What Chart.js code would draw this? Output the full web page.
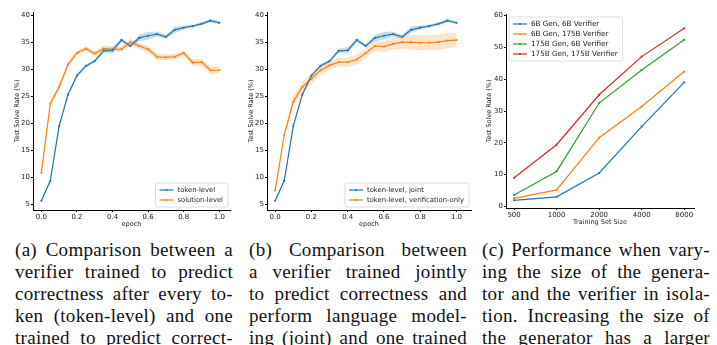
<!DOCTYPE html>
<html>
<head>
<meta charset="utf-8">
<script src="https://cdn.jsdelivr.net/npm/chart.js@4.4.0/dist/chart.umd.min.js"></script>
<style>
  body { margin: 0; background: #fff; }
  #wrap { position: relative; width: 717px; height: 345px; overflow: hidden; }
  canvas { position: absolute; top: 0; }
  .cap { position: absolute; top: 239px; width: 218px; font-family: "Liberation Serif", serif; font-size: 19px; letter-spacing: 0.3px; color: #111; }
  .cap div { height: 22px; line-height: 22px; white-space: nowrap; text-align: justify; text-align-last: justify; }
</style>
</head>
<body>
<div id="wrap">
  <canvas id="chartA" width="240" height="232" style="left:0px"></canvas>
  <canvas id="chartB" width="240" height="232" style="left:240px"></canvas>
  <canvas id="chartC" width="240" height="232" style="left:477px"></canvas>
  <div class="cap" style="left:15px">
    <div>(a) Comparison between a</div>
    <div>verifier trained to predict</div>
    <div>correctness after every to-</div>
    <div>ken (token-level) and one</div>
    <div>trained to predict correct-</div>
  </div>
  <div class="cap" style="left:249px">
    <div>(b) Comparison between</div>
    <div>a verifier trained jointly</div>
    <div>to predict correctness and</div>
    <div>perform language model-</div>
    <div>ing (joint) and one trained</div>
  </div>
  <div class="cap" style="left:482px; width:228px">
    <div>(c) Performance when vary-</div>
    <div>ing the size of the genera-</div>
    <div>tor and the verifier in isola-</div>
    <div>tion. Increasing the size of</div>
    <div>the generator has a larger</div>
  </div>
</div>
<script>
// epoch curves (a) and (b)
var epochs = [0, 0.05, 0.1, 0.15, 0.2, 0.25, 0.3, 0.35, 0.4, 0.45, 0.5, 0.55, 0.6, 0.65, 0.7, 0.75, 0.8, 0.85, 0.9, 0.95, 1.0];
var tokenLevel = [5.6, 9.3, 19.5, 25.3, 28.8, 30.6, 31.5, 33.4, 33.5, 35.4, 34.3, 35.8, 36.2, 36.5, 36.0, 37.3, 37.7, 38.0, 38.4, 39.0, 38.6];
var tokenSpread = [0.2, 0.3, 0.3, 0.3, 0.3, 0.3, 0.3, 0.4, 0.6, 0.4, 0.3, 0.6, 0.7, 0.5, 0.4, 0.6, 0.4, 0.3, 0.3, 0.3, 0.3];
var solutionLevel = [10.8, 23.6, 26.7, 30.9, 33.0, 33.8, 32.9, 33.8, 33.7, 33.7, 35.0, 34.3, 33.7, 32.3, 32.2, 32.3, 33.0, 31.2, 31.3, 29.8, 29.8];
var solutionSpread = [0.3, 0.5, 0.6, 0.5, 0.4, 0.4, 0.4, 0.6, 0.5, 0.5, 0.6, 0.5, 0.6, 0.6, 0.5, 0.5, 0.5, 0.6, 0.6, 0.7, 0.6];
var verifOnly = [7.5, 17.8, 24.0, 26.7, 28.2, 29.8, 30.7, 31.3, 31.3, 31.8, 33.0, 34.3, 34.2, 34.7, 35.0, 35.0, 34.9, 34.9, 35.0, 35.3, 35.4];
var verifSpread = [0.3, 0.6, 0.8, 1.0, 1.0, 0.9, 0.8, 0.8, 0.9, 0.9, 0.9, 0.9, 1.0, 1.1, 1.2, 1.4, 1.4, 1.4, 1.4, 1.4, 1.3];

// training set size curves (c)
var sizeLabels = ['500', '1000', '2000', '4000', '8000'];
var gen6ver6 = [1.9, 3.0, 10.5, 25.1, 39.0];
var gen6ver175 = [2.5, 5.2, 21.6, 31.4, 42.4];
var gen175ver6 = [3.6, 11.0, 32.5, 42.9, 52.4];
var gen175ver175 = [9.0, 19.4, 35.1, 47.1, 56.0];

var BLUE = '#1f77b4', ORANGE = '#ff7f0e', GREEN = '#2ca02c', RED = '#d62728';
var FONT = '"DejaVu Sans", sans-serif';
var INK = '#222';

function pts(xs, ys) {
  return xs.map(function (x, i) { return {x: x, y: ys[i]}; });
}

// matplotlib style legend box inside the plot
var boxLegend = {
  id: 'boxLegend',
  afterDatasetsDraw: function (chart, args, opts) {
    var ctx = chart.ctx, a = chart.chartArea;
    var items = chart.data.datasets.filter(function (d) { return d.inLegend; });
    ctx.save();
    ctx.font = (opts.size || 6.8) + 'px ' + FONT;
    var tw = 0;
    items.forEach(function (d) { tw = Math.max(tw, ctx.measureText(d.label).width); });
    var rowH = 10;
    var w = 4 + 14 + 4 + tw + 5;
    var h = items.length * rowH + 4;
    var x = opts.corner === 'ul' ? a.left + 3 : a.right - 2 - w;
    var y = opts.corner === 'ul' ? a.top + 3 : a.bottom - 3 - h;
    ctx.beginPath();
    ctx.roundRect(x, y, w, h, 2);
    ctx.fillStyle = 'rgba(255,255,255,0.85)';
    ctx.fill();
    ctx.strokeStyle = '#d6d6d6';
    ctx.lineWidth = 0.8;
    ctx.stroke();
    items.forEach(function (d, i) {
      var cy = y + 2 + rowH * i + rowH / 2;
      ctx.strokeStyle = d.borderColor;
      ctx.lineWidth = 1.2;
      ctx.beginPath();
      ctx.moveTo(x + 4, cy);
      ctx.lineTo(x + 18, cy);
      ctx.stroke();
      ctx.fillStyle = d.borderColor;
      ctx.beginPath();
      ctx.arc(x + 11, cy, 1, 0, Math.PI * 2);
      ctx.fill();
      ctx.fillStyle = INK;
      ctx.textBaseline = 'middle';
      ctx.fillText(d.label, x + 22, cy + 0.5);
    });
    ctx.restore();
  }
};

function lineSet(label, data, color) {
  return {label: label, data: data, borderColor: color, backgroundColor: color, borderWidth: 1.2,
          pointRadius: 1.1, pointBorderWidth: 0, tension: 0, fill: false, inLegend: true};
}
function bandSets(xs, ys, spread, rgba) {
  var lo = ys.map(function (v, i) { return v - spread[i]; });
  var hi = ys.map(function (v, i) { return v + spread[i]; });
  return [
    {data: pts(xs, lo), borderWidth: 0, pointRadius: 0, fill: false},
    {data: pts(xs, hi), borderWidth: 0, pointRadius: 0, fill: '-1', backgroundColor: rgba}
  ];
}

function axisCommon() {
  return {
    border: {display: true, color: '#000', width: 1},
    grid: {drawOnChartArea: false, drawTicks: true, tickLength: 2, color: '#000'},
    ticks: {font: {family: FONT, size: 7}, color: INK, padding: 1, includeBounds: false}
  };
}

function epochChart(id, series, yW, yTitlePad, padRight, xmin, xmax) {
  var ds = [];
  series.forEach(function (s) { ds = ds.concat(bandSets(epochs, s.data, s.spread, s.band)); });
  series.forEach(function (s) { ds.push(lineSet(s.label, pts(epochs, s.data), s.color)); });
  var xs = axisCommon(), ys = axisCommon();
  xs.type = 'linear'; xs.min = xmin; xs.max = xmax;
  xs.ticks.stepSize = 0.2;
  xs.ticks.callback = function (v) { return v.toFixed(1); };
  xs.title = {display: true, text: 'epoch', font: {family: FONT, size: 6.5}, color: INK, padding: {top: 0, bottom: 4}};
  xs.afterFit = function (s) { s.height = 22; };
  ys.min = 3.9; ys.max = 40.6;
  ys.ticks.stepSize = 5;
  ys.title = {display: true, text: 'Test Solve Rate (%)', font: {family: FONT, size: 6.5}, color: INK, padding: {top: yTitlePad, bottom: 0}};
  ys.afterFit = function (s) { s.width = yW; };
  new Chart(document.getElementById(id), {
    type: 'line',
    data: {datasets: ds},
    plugins: [boxLegend],
    options: {
      responsive: false, animation: false, devicePixelRatio: 1,
      layout: {padding: {top: 12, right: padRight, left: 0, bottom: 0}},
      scales: {x: xs, y: ys},
      plugins: {legend: {display: false}, tooltip: {enabled: false}, boxLegend: {corner: 'lr', size: 6.8}}
    }
  });
}

epochChart('chartA', [
  {label: 'token-level', data: tokenLevel, spread: tokenSpread, color: BLUE, band: 'rgba(31,119,180,0.25)'},
  {label: 'solution-level', data: solutionLevel, spread: solutionSpread, color: ORANGE, band: 'rgba(255,127,14,0.25)'}
], 33, 13, 10, -0.047, 1.06);

epochChart('chartB', [
  {label: 'token-level, joint', data: tokenLevel, spread: tokenSpread, color: BLUE, band: 'rgba(31,119,180,0.25)'},
  {label: 'token-level, verification-only', data: verifOnly, spread: verifSpread, color: ORANGE, band: 'rgba(255,127,14,0.22)'}
], 27, 7, 9, -0.045, 1.08);

// chart (c)
var idx = [0, 1, 2, 3, 4];
var xc = axisCommon(), yc = axisCommon();
xc.type = 'linear'; xc.min = -0.19; xc.max = 4.23;
xc.ticks.stepSize = 1;
xc.ticks.callback = function (v) { return sizeLabels[v]; };
xc.title = {display: true, text: 'Training Set Size', font: {family: FONT, size: 6.5}, color: INK, padding: {top: 0, bottom: 6}};
xc.afterFit = function (s) { s.height = 24; };
yc.min = -0.5; yc.max = 60.5;
yc.ticks.stepSize = 10;
yc.title = {display: true, text: 'Test Solve Rate (%)', font: {family: FONT, size: 6.5}, color: INK, padding: {top: 8, bottom: 0}};
yc.afterFit = function (s) { s.width = 29; };

new Chart(document.getElementById('chartC'), {
  type: 'line',
  data: {datasets: [
    lineSet('6B Gen, 6B Verifier', pts(idx, gen6ver6), BLUE),
    lineSet('6B Gen, 175B Verifier', pts(idx, gen6ver175), ORANGE),
    lineSet('175B Gen, 6B Verifier', pts(idx, gen175ver6), GREEN),
    lineSet('175B Gen, 175B Verifier', pts(idx, gen175ver175), RED)
  ]},
  plugins: [boxLegend],
  options: {
    responsive: false, animation: false, devicePixelRatio: 1,
    layout: {padding: {top: 14, right: 23, left: 0, bottom: 0}},
    scales: {x: xc, y: yc},
    plugins: {legend: {display: false}, tooltip: {enabled: false}, boxLegend: {corner: 'ul', size: 7.2}}
  }
});
</script>
</body>
</html>
